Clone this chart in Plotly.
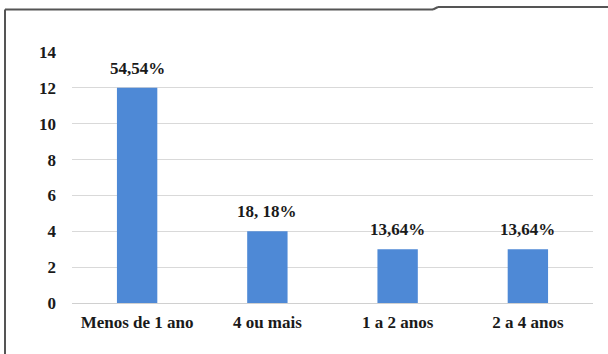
import plotly.graph_objects as go

# Tempo de experiência - frequências absolutas e percentuais
categorias = ["Menos de 1 ano", "4 ou mais", "1 a 2 anos", "2 a 4 anos"]
frequencias = [12, 4, 3, 3]
rotulos = ["54,54%", "18, 18%", "13,64%", "13,64%"]
ticks_y = [0, 2, 4, 6, 8, 10, 12, 14]

W, H = 608, 354
ML, MR, MT, MB = 72, 15, 52, 51
pw, ph = W - ML - MR, H - MT - MB


def px(x):
    return (x - ML) / pw


def py(y):
    return (H - MB - y) / ph


fonte = "'Liberation Serif', 'Times New Roman', Times, serif"
cor_texto = "#1a1a1a"

fig = go.Figure(
    go.Bar(
        x=categorias,
        y=frequencias,
        marker=dict(color="#4E89D6", line=dict(width=0)),
        width=0.31,
        hoverinfo="x+y",
    )
)

# rótulos percentuais acima de cada barra
for cat, val, rot in zip(categorias, frequencias, rotulos):
    fig.add_annotation(
        x=cat, y=val, text="<b>" + rot + "</b>", showarrow=False,
        xanchor="center", yanchor="bottom", yshift=8,
        font=dict(family=fonte, size=17, color=cor_texto),
    )

# moldura em volta do gráfico
moldura = dict(color="#555555", width=2)
fig.add_shape(type="line", xref="paper", yref="paper",
              x0=px(5), y0=py(H + 5), x1=px(5), y1=py(9.5), line=moldura)
fig.add_shape(type="line", xref="paper", yref="paper",
              x0=px(5), y0=py(9.5), x1=px(433), y1=py(9.5), line=moldura)
fig.add_shape(type="line", xref="paper", yref="paper",
              x0=px(433), y0=py(9.5), x1=px(438), y1=py(7), line=moldura)
fig.add_shape(type="line", xref="paper", yref="paper",
              x0=px(438), y0=py(7), x1=px(W + 5), y1=py(7), line=moldura)

eixo_fonte = dict(family=fonte, size=17, color=cor_texto, weight="bold")

fig.update_layout(
    width=W,
    height=H,
    margin=dict(l=ML, r=MR, t=MT, b=MB),
    paper_bgcolor="white",
    plot_bgcolor="white",
    showlegend=False,
    bargap=0.69,
    font=dict(family=fonte, color=cor_texto),
    xaxis=dict(
        showgrid=False,
        showline=False,
        ticks="",
        tickfont=eixo_fonte,
        ticklabelstandoff=7,
    ),
    yaxis=dict(
        range=[0, 14],
        tickvals=ticks_y,
        showgrid=True,
        gridcolor="#d9d9d9",
        gridwidth=1,
        zeroline=True,
        zerolinecolor="#d0d0d0",
        zerolinewidth=1,
        showline=False,
        ticks="",
        tickfont=eixo_fonte,
        ticklabelstandoff=15,
    ),
)

fig.write_html("out.html")
